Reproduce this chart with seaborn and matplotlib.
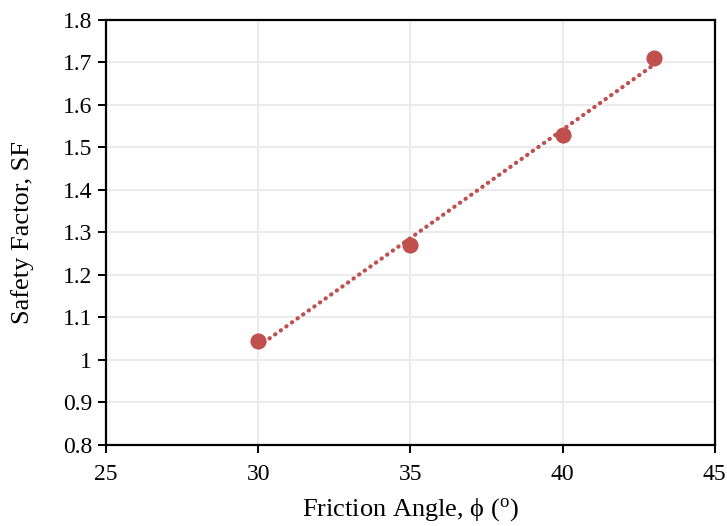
import matplotlib
matplotlib.use("Agg")
import matplotlib.pyplot as plt
import seaborn as sns
import pandas as pd

# data
friction_angle = [30, 35, 40, 43]
safety_factor = [1.045, 1.27, 1.53, 1.71]

x_ticks = [25, 30, 35, 40, 45]
y_ticks = [0.8, 0.9, 1, 1.1, 1.2, 1.3, 1.4, 1.5, 1.6, 1.7, 1.8]
y_tick_labels = ["0.8", "0.9", "1", "1.1", "1.2", "1.3", "1.4", "1.5", "1.6", "1.7", "1.8"]

df = pd.DataFrame({"phi": friction_angle, "sf": safety_factor})

sns.set_theme(style="whitegrid")
plt.rcParams["font.family"] = ["Liberation Serif", "DejaVu Serif"]
plt.rcParams["mathtext.fontset"] = "custom"
plt.rcParams["mathtext.rm"] = "Liberation Serif"

red = "#C0504D"

fig = plt.figure(figsize=(7.27, 5.26), dpi=100)
ax = fig.add_axes([0.146, 0.154, 0.837, 0.808])

sns.regplot(data=df, x="phi", y="sf", ax=ax, ci=None, truncate=True,
            scatter_kws=dict(s=135, color=red, alpha=1, linewidths=0, zorder=3),
            line_kws=dict(color=red, ls=(0, (0.1, 1.55)), lw=3.0,
                          dash_capstyle="round", zorder=2))

ax.set_xlim(25, 45)
ax.set_ylim(0.8, 1.8)
ax.set_xticks(x_ticks)
ax.set_yticks(y_ticks)
ax.set_yticklabels(y_tick_labels)

ax.grid(True, color="#ebebeb", lw=1.5)
for s in ax.spines.values():
    s.set_color("black")
    s.set_linewidth(1.6)

ax.tick_params(axis="both", which="both", direction="out", length=6, width=1.4,
               color="black", labelsize=17, labelcolor="black",
               bottom=True, left=True, pad=4)
ax.tick_params(axis="x", pad=8)

ax.set_xlabel("Friction Angle, \u03d5 ($\\mathrm{^o}$)", fontsize=19, color="black", labelpad=8)
ax.set_ylabel("Safety Factor, SF", fontsize=19, color="black", labelpad=21)

fig.savefig("out.png", dpi=100)
